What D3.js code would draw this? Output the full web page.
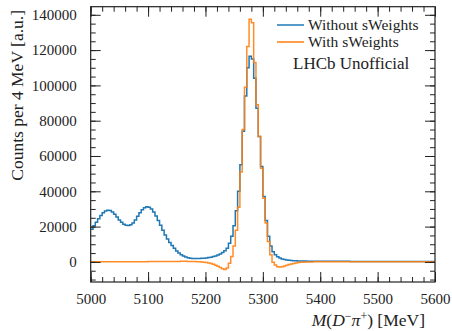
<!DOCTYPE html>
<html>
<head>
<meta charset="utf-8">
<script src="https://cdn.jsdelivr.net/npm/d3@7"></script>
<style>
  body { margin: 0; background: #fff; }
  text { font-family: "Liberation Serif", "DejaVu Serif", serif; fill: #222; }
</style>
</head>
<body>
<div id="chart"></div>
<script>
// histogram: 4 MeV bins from 5000 to 5600
var binStart = 5000, binWidth = 4;

var withoutSW = [
  18500, 20500, 22500, 24500, 26300, 27800, 28800, 29300, 29100, 28300,
  27000, 25400, 23800, 22400, 21300, 20700, 20600, 21000, 22100, 23800,
  25800, 27800, 29500, 30700, 31200, 31000, 30000, 28300, 26000, 23500,
  20800, 18000, 15300, 13000, 11000, 9300, 7800, 6200, 5000, 4000,
  3300, 2800, 2400, 2100, 1950, 1900, 1900, 1950, 2000, 2100,
  2250, 2450, 2700, 3000, 3400, 3900, 4500, 5300, 6300, 7700,
  10500, 14500, 20500, 29000, 40000, 55000, 74000, 94000, 110000, 116500,
  115000, 104000, 87000, 71000, 54000, 37000, 23500, 14500, 9000, 5800,
  4000, 2900, 2200, 1700, 1350, 1100, 900, 750, 650, 580,
  520, 480, 460, 440, 430, 420, 410, 400, 390, 380,
  370, 360, 350, 345, 340, 335, 330, 325, 320, 315,
  310, 305, 300, 295, 290, 285, 280, 275, 270, 268,
  265, 262, 260, 257, 255, 252, 250, 247, 245, 242,
  240, 238, 236, 234, 232, 230, 228, 226, 224, 222,
  220, 218, 216, 214, 212, 210, 208, 206, 204, 202
];

var withSW = [
  50, 40, 30, 30, 20, 20, 20, 20, 30, 30,
  40, 40, 50, 50, 60, 60, 70, 80, 90, 100,
  110, 120, 130, 140, 150, 160, 170, 180, 190, 200,
  210, 220, 230, 240, 250, 260, 270, 280, 290, 300,
  300, 300, 290, 270, 240, 200, 140, 60, -50, -200,
  -400, -650, -950, -1350, -1850, -2500, -3200, -3900, -4300, -3400,
  -800, 3000, 9000, 18000, 31000, 51000, 75000, 99000, 122000, 137500,
  135500, 113000, 89000, 71000, 53000, 36000, 22000, 11500, 4000, -200,
  -1800, -2700, -2900, -2700, -2300, -1900, -1500, -1150, -850, -600,
  -400, -250, -150, -80, -30, 0, 10, 20, 20, 20,
  20, 20, 20, 25, 20, 20, 15, 20, 20, 20,
  20, 20, 25, 20, 20, 20, 15, 20, 20, 20,
  20, 20, 20, 20, 25, 20, 20, 20, 15, 20,
  20, 20, 20, 20, 20, 20, 20, 25, 20, 20,
  20, 20, 15, 20, 20, 20, 20, 20, 20, 20
];

var seriesNames = ["Without sWeights", "With sWeights"];
var seriesColors = ["#1f77b4", "#ff7f0e"];
var xTicks = [5000, 5100, 5200, 5300, 5400, 5500, 5600];
var yTicks = [0, 20000, 40000, 60000, 80000, 100000, 120000, 140000];

var W = 452, H = 331;
var margin = {left: 90.7, right: 17, top: 6.7, bottom: 49};
var pw = W - margin.left - margin.right;
var ph = H - margin.top - margin.bottom;

var svg = d3.select("#chart").append("svg")
  .attr("width", W)
  .attr("height", H);

var g = svg.append("g")
  .attr("transform", "translate(" + margin.left + "," + margin.top + ")");

var x = d3.scaleLinear().domain([5000, 5600]).range([0, pw]);

var all = withoutSW.concat(withSW);
var lo = d3.min(all), hi = d3.max(all), pad = 0.05 * (hi - lo);
var y = d3.scaleLinear().domain([lo - pad, hi + pad]).range([ph, 0]);

g.append("clipPath").attr("id", "clip")
  .append("rect").attr("width", pw).attr("height", ph);

function stepPoints(vals) {
  var pts = vals.map(function(v, i) { return [binStart + i * binWidth, v]; });
  pts.push([binStart + vals.length * binWidth, vals[vals.length - 1]]);
  return pts;
}

var line = d3.line()
  .x(function(d) { return x(d[0]); })
  .y(function(d) { return y(d[1]); })
  .curve(d3.curveStepAfter);

[withoutSW, withSW].forEach(function(vals, k) {
  g.append("path")
    .attr("clip-path", "url(#clip)")
    .attr("d", line(stepPoints(vals)))
    .attr("fill", "none")
    .attr("stroke", seriesColors[k])
    .attr("stroke-opacity", k == 1 ? 0.9 : 1)
    .attr("stroke-width", 1.5);
});

// axes with inward ticks on all four sides
function styleAxis(sel) {
  sel.select(".domain").remove();
  sel.selectAll("line").attr("stroke", "#222").attr("stroke-width", 1);
}
var xMinor = d3.range(5000, 5601, 20);
var yMinor = d3.range(-10000, 145000, 5000);

g.append("g").attr("transform", "translate(0," + ph + ")")
  .call(d3.axisBottom(x).tickValues(xMinor).tickSize(-5).tickFormat(""))
  .call(styleAxis);
g.append("g").attr("transform", "translate(0," + ph + ")")
  .call(d3.axisBottom(x).tickValues(xTicks).tickSize(-10).tickPadding(11).tickFormat(d3.format("d")))
  .call(styleAxis)
  .selectAll("text").attr("font-size", "15px").attr("dy", "0.71em");
g.append("g")
  .call(d3.axisTop(x).tickValues(xMinor).tickSize(-5).tickFormat(""))
  .call(styleAxis);
g.append("g")
  .call(d3.axisTop(x).tickValues(xTicks).tickSize(-10).tickFormat(""))
  .call(styleAxis);

g.append("g")
  .call(d3.axisLeft(y).tickValues(yMinor).tickSize(-5).tickFormat(""))
  .call(styleAxis);
g.append("g")
  .call(d3.axisLeft(y).tickValues(yTicks).tickSize(-10).tickPadding(14).tickFormat(d3.format("d")))
  .call(styleAxis)
  .selectAll("text").attr("font-size", "15px");
g.append("g").attr("transform", "translate(" + pw + ",0)")
  .call(d3.axisRight(y).tickValues(yMinor).tickSize(-5).tickFormat(""))
  .call(styleAxis);
g.append("g").attr("transform", "translate(" + pw + ",0)")
  .call(d3.axisRight(y).tickValues(yTicks).tickSize(-10).tickFormat(""))
  .call(styleAxis);

g.append("rect")
  .attr("width", pw).attr("height", ph)
  .attr("fill", "none").attr("stroke", "#222").attr("stroke-width", 1.2);

// axis titles
svg.append("text")
  .attr("transform", "translate(23,10) rotate(-90)")
  .attr("text-anchor", "end")
  .attr("font-size", "17.5px")
  .text("Counts per 4 MeV [a.u.]");

var xl = svg.append("text")
  .attr("x", 425).attr("y", 326)
  .attr("text-anchor", "end")
  .attr("font-size", "17.5px");
xl.append("tspan").attr("font-style", "italic").text("M");
xl.append("tspan").text("(");
xl.append("tspan").attr("font-style", "italic").text("D");
xl.append("tspan").attr("dy", -6).attr("font-size", "12px").text("\u2212");
xl.append("tspan").attr("dy", 6).attr("font-style", "italic").text("\u03c0");
xl.append("tspan").attr("dy", -6).attr("font-size", "12px").text("+");
xl.append("tspan").attr("dy", 6).text(") [MeV]");

// legend
var legendY = [25, 42];
seriesNames.forEach(function(name, k) {
  svg.append("line")
    .attr("x1", 277).attr("x2", 304)
    .attr("y1", legendY[k]).attr("y2", legendY[k])
    .attr("stroke", seriesColors[k]).attr("stroke-width", 1.5);
  svg.append("text")
    .attr("x", 308).attr("y", legendY[k] + 5)
    .attr("font-size", "15.5px")
    .text(name);
});

svg.append("text")
  .attr("x", 293).attr("y", 69)
  .attr("font-size", "17px")
  .text("LHCb Unofficial");
</script>
</body>
</html>
